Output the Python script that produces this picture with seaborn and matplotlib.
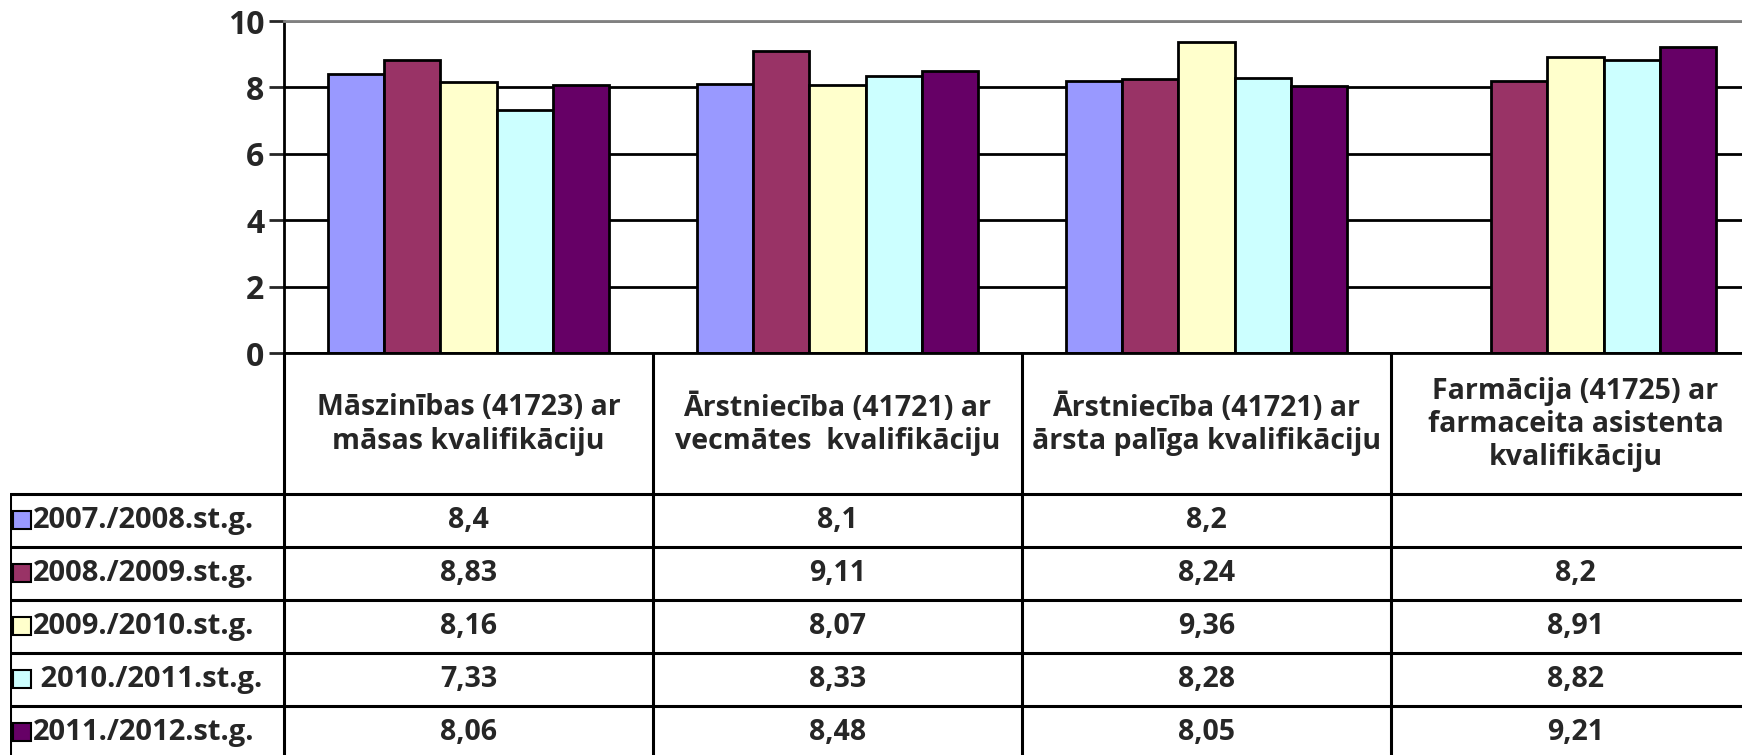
import numpy as np
import pandas as pd
import matplotlib
matplotlib.use("Agg")
import matplotlib.pyplot as plt
from matplotlib.patches import Rectangle
import seaborn as sns

# Data
kategorijas = [
    "Māszinības (41723) ar\nmāsas kvalifikāciju",
    "Ārstniecība (41721) ar\nvecmātes  kvalifikāciju",
    "Ārstniecība (41721) ar\nārsta palīga kvalifikāciju",
    "Farmācija (41725) ar\nfarmaceita asistenta\nkvalifikāciju",
]
gadi = ["2007./2008.st.g.", "2008./2009.st.g.", "2009./2010.st.g.",
        "2010./2011.st.g.", "2011./2012.st.g."]
gadu_etiketes = ["2007./2008.st.g.", "2008./2009.st.g.", "2009./2010.st.g.",
                 " 2010./2011.st.g.", "2011./2012.st.g."]
v_2007 = [8.4, 8.1, 8.2, np.nan]
v_2008 = [8.83, 9.11, 8.24, 8.2]
v_2009 = [8.16, 8.07, 9.36, 8.91]
v_2010 = [7.33, 8.33, 8.28, 8.82]
v_2011 = [8.06, 8.48, 8.05, 9.21]
krasas = ["#9999FF", "#993366", "#FFFFCC", "#CCFFFF", "#660066"]

vertibas = [v_2007, v_2008, v_2009, v_2010, v_2011]
rows = []
for g, vals in zip(gadi, vertibas):
    for k, v in enumerate(vals):
        rows.append({"kat": k, "gads": g, "vert": v})
df = pd.DataFrame(rows)

sns.set_style("white")
plt.rcParams["font.family"] = ["Open Sans", "DejaVu Sans"]
plt.rcParams["font.weight"] = "bold"

W, H = 1742, 755
fig = plt.figure(figsize=(W / 100, H / 100), dpi=100)

# plot area in pixels
x_left, col_w = 284, 369
x_right = x_left + 4 * col_w
y_top, y_zero = 21, 353
ax = fig.add_axes([x_left / W, 1 - y_zero / H, (x_right - x_left) / W, (y_zero - y_top) / H])

sns.barplot(data=df, x="kat", y="vert", hue="gads", hue_order=gadi, palette=krasas,
            edgecolor="black", linewidth=2, width=0.762, gap=0, errorbar=None,
            legend=False, saturation=1, ax=ax)

ax.set_xlim(-0.5, 3.5)
ax.set_ylim(0, 10)
ax.set_yticks(range(0, 11, 2))
ax.set_xticks([])
ax.set_xlabel("")
ax.set_ylabel("")
ax.set_axisbelow(True)
ax.grid(axis="y", color="black", linewidth=2)
ax.get_ygridlines()[-1].set_color("#808080")
ax.tick_params(axis="y", length=11, width=2, labelsize=23, pad=3, left=True)
for lab in ax.get_yticklabels():
    lab.set_fontweight("bold")
for s in ["left", "bottom"]:
    ax.spines[s].set_color("black")
    ax.spines[s].set_linewidth(2)
ax.spines["top"].set_color("#808080")
ax.spines["top"].set_linewidth(2)
ax.spines["right"].set_visible(False)

# data table below the chart
t_left, t_bottom = 10, 762
tab = fig.add_axes([t_left / W, 1 - t_bottom / H, (x_right - t_left) / W, (t_bottom - y_zero) / H])
tab.set_xlim(t_left, x_right)
tab.set_ylim(t_bottom, y_zero)
tab.axis("off")

head_bottom, row_h = 494, 53
lw = 2.2
for i in range(6):
    y = head_bottom + i * row_h
    tab.plot([t_left, x_right], [y, y], color="black", lw=lw, solid_capstyle="butt")
tab.plot([t_left, t_left], [head_bottom, t_bottom], color="black", lw=lw)
for i in range(5):
    x = x_left + i * col_w
    tab.plot([x, x], [y_zero, t_bottom], color="black", lw=lw)

for k, name in enumerate(kategorijas):
    cx = x_left + (k + 0.5) * col_w
    tab.text(cx, (y_zero + head_bottom) / 2 + 1, name, ha="center", va="center",
             fontsize=20.5, fontweight="bold", multialignment="center", linespacing=1.2)

for r, (lab, vals, c) in enumerate(zip(gadu_etiketes, vertibas, krasas)):
    cy = head_bottom + (r + 0.5) * row_h
    tab.add_patch(Rectangle((13, cy - 9), 18, 18, facecolor=c, edgecolor="black", lw=1.5))
    tab.text(33, cy, lab, ha="left", va="center", fontsize=21, fontweight="bold")
    for k, v in enumerate(vals):
        if np.isnan(v):
            continue
        cx = x_left + (k + 0.5) * col_w
        tab.text(cx, cy, f"{v:g}".replace(".", ","), ha="center", va="center",
                 fontsize=20.5, fontweight="bold")

fig.savefig("out.png", dpi=100)
